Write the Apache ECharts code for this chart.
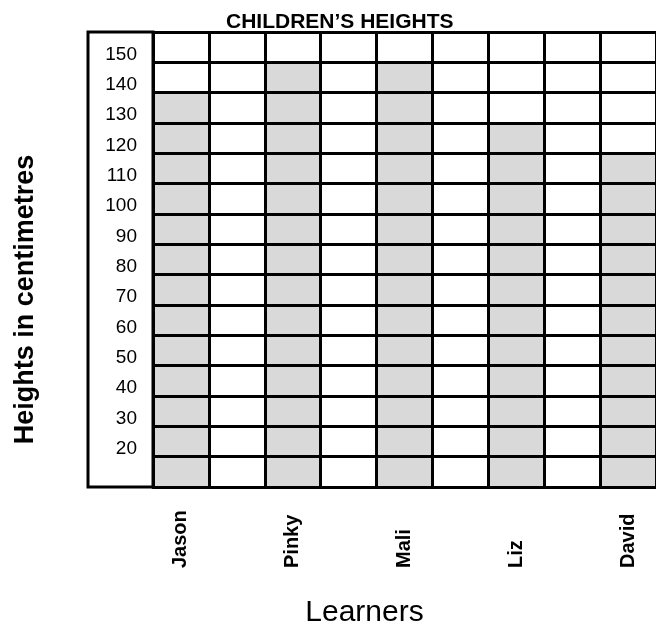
<!DOCTYPE html>
<html>
<head>
<meta charset="utf-8">
<script src="https://cdn.jsdelivr.net/npm/echarts@6/dist/echarts.min.js"></script>
<style>
  html, body { margin: 0; padding: 0; background: #fff; }
  #chart { width: 656px; height: 634px; }
</style>
</head>
<body>
<div id="chart"></div>
<script>
let learners = ['Jason', '', 'Pinky', '', 'Mali', '', 'Liz', '', 'David']; // x轴类目（空列为间隔）
let heights = [130, null, 140, null, 140, null, 120, null, 110]; // 身高 cm
let yTicks = [20, 30, 40, 50, 60, 70, 80, 90, 100, 110, 120, 130, 140, 150]; // y轴显示的刻度
let chartTitle = "CHILDREN’S HEIGHTS";
let yName = 'Heights in centimetres';
let xName = 'Learners';

let font = 'Liberation Sans, Arial, Helvetica, sans-serif';
let lineStyle = { color: '#000', width: 3 };

let Chart = echarts.init(document.getElementById('chart'));

let option = {
  animation: false,
  title: {
    text: chartTitle,
    left: 221,
    top: 7,
    textStyle: { fontFamily: font, fontSize: 21, fontWeight: 'bold', color: '#000' }
  },
  grid: [{
    left: 153,
    top: 32,
    right: -5,
    bottom: 147
  }, {
    // 刻度标签所在的框
    left: 88,
    top: 32,
    width: 65,
    bottom: 147,
    show: true,
    borderColor: '#000',
    borderWidth: 3
  }],
  xAxis: [{
    type: 'category',
    data: learners,
    z: 5,
    name: xName,
    nameLocation: 'middle',
    nameGap: 111,
    nameTextStyle: { fontFamily: font, fontSize: 30, color: '#000', padding: [0, 80, 0, 0] },
    axisLine: { show: true, lineStyle: lineStyle },
    axisTick: { show: false },
    splitLine: { show: true, interval: 0, lineStyle: lineStyle },
    axisLabel: {
      interval: 0,
      rotate: 90,
      align: 'left',
      margin: 81,
      fontFamily: font,
      fontSize: 20,
      fontWeight: 'bold',
      color: '#000'
    }
  }, {
    gridIndex: 1,
    type: 'value',
    show: false
  }],
  yAxis: [{
    type: 'value',
    min: 0,
    max: 150,
    interval: 10,
    z: 5,
    name: yName,
    nameLocation: 'middle',
    nameRotate: 90,
    nameGap: 114,
    nameTextStyle: { fontFamily: font, fontSize: 27, fontWeight: 'bold', color: '#000', padding: [0, 80, 0, 0] },
    axisLine: { show: false },
    axisTick: { show: false },
    splitLine: { show: true, lineStyle: lineStyle },
    axisLabel: {
      margin: 16,
      verticalAlign: 'top',
      padding: [13, 0, 0, 0],
      fontFamily: font,
      fontSize: 19,
      color: '#000',
      formatter: function (val) {
        return yTicks.indexOf(val) >= 0 ? String(val) : '';
      }
    }
  }, {
    gridIndex: 1,
    type: 'value',
    show: false
  }],
  series: [{
    type: 'bar',
    data: heights,
    barWidth: '100%',
    barCategoryGap: '0%',
    z: 1,
    itemStyle: { color: '#d9d9d9' }
  }]
};

Chart.setOption(option);
</script>
</body>
</html>
